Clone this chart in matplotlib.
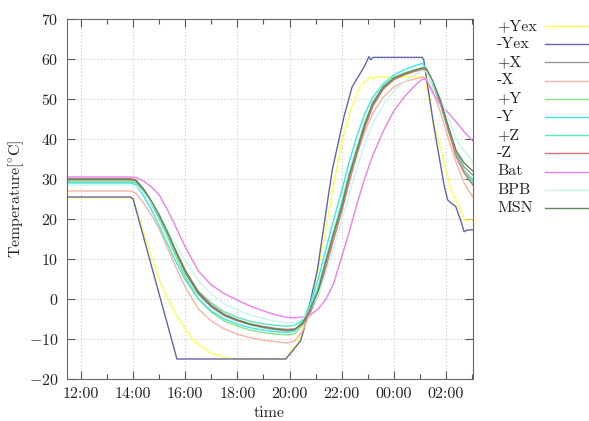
import matplotlib
matplotlib.use("Agg")
import matplotlib.pyplot as plt
from matplotlib.lines import Line2D
from matplotlib.ticker import FixedLocator, FuncFormatter

plt.rcParams['font.family'] = 'cmr10'
plt.rcParams['mathtext.fontset'] = 'cm'
plt.rcParams['axes.formatter.use_mathtext'] = True

# time in hours since midnight of the first day (24 = 00:00 next day)
hours = [11.45, 12.0, 13.0, 13.9, 14.1, 14.4, 14.7, 15.0, 15.3, 15.6,
         16.0, 16.5, 17.0, 17.5, 18.0, 18.5, 19.0, 19.5, 19.9, 20.2,
         20.5, 20.8, 21.1, 21.4, 21.7, 22.0, 22.3, 22.6, 22.9, 23.2,
         23.6, 24.0, 24.4, 24.8, 25.1, 25.25, 25.5, 25.8, 26.1, 26.4,
         26.7, 27.03]

plus_x = [30.0, 30.0, 30.0, 30.0, 29.7, 27.3, 24.2, 20.6, 16.5, 12.0,
          6.5, 1.2, -2.0, -4.2, -5.5, -6.5, -7.2, -7.7, -8.0, -7.8,
          -6.2, -2.8, 1.8, 9.0, 16.2, 23.0, 30.5, 37.5, 43.5, 48.5,
          52.8, 55.0, 56.2, 57.0, 57.6, 57.3, 54.0, 49.0, 42.5, 36.5,
          33.0, 31.0]
minus_x = [27.0, 27.0, 27.0, 27.0, 26.5, 24.0, 21.0, 17.5, 13.0, 8.5,
           3.0, -2.5, -5.5, -7.5, -8.8, -9.7, -10.3, -10.7, -11.0, -10.5,
           -8.0, -3.5, 2.0, 9.0, 16.0, 23.0, 30.0, 36.5, 42.0, 46.5,
           50.5, 53.0, 54.3, 55.0, 55.5, 55.0, 52.0, 46.5, 40.0, 34.0,
           29.0, 25.5]
plus_y = [29.5, 29.5, 29.5, 29.5, 29.3, 27.0, 23.8, 20.0, 15.8, 11.2,
          5.6, 0.0, -3.3, -5.5, -6.8, -7.8, -8.4, -8.8, -9.0, -8.7,
          -6.5, -2.5, 2.5, 9.8, 17.0, 23.8, 31.5, 38.0, 44.3, 49.3,
          53.2, 55.4, 56.5, 57.3, 57.8, 57.6, 54.0, 48.5, 42.0, 36.0,
          32.0, 30.0]
minus_y = [29.0, 29.0, 29.0, 29.0, 28.5, 25.8, 22.3, 18.3, 14.0, 9.8,
           4.8, 0.0, -3.0, -5.0, -6.3, -7.2, -7.8, -8.2, -8.4, -8.0,
           -5.5, -1.0, 5.0, 12.5, 20.0, 27.0, 34.5, 41.0, 46.5, 50.5,
           53.8, 56.0, 57.3, 58.3, 58.9, 57.5, 53.5, 48.5, 42.0, 36.0,
           32.0, 29.0]
plus_z = [29.2, 29.2, 29.2, 29.2, 29.0, 26.8, 23.8, 20.3, 16.5, 12.3,
          7.0, 2.0, -1.0, -3.2, -4.6, -5.6, -6.2, -6.6, -6.8, -6.6,
          -5.2, -1.8, 3.0, 10.0, 17.0, 24.0, 31.5, 38.0, 44.0, 48.8,
          52.6, 54.9, 56.1, 57.0, 57.5, 57.2, 54.0, 49.0, 42.5, 36.5,
          32.0, 29.5]
minus_z = [29.8, 29.8, 29.8, 29.8, 29.6, 27.4, 24.4, 21.0, 17.0, 12.6,
           7.2, 1.8, -1.5, -3.8, -5.2, -6.2, -6.9, -7.4, -7.6, -7.5,
           -6.3, -3.2, 1.0, 8.0, 15.0, 21.8, 29.5, 36.5, 43.0, 48.2,
           52.5, 54.8, 56.0, 56.9, 57.4, 57.2, 54.2, 49.0, 42.0, 35.5,
           31.5, 28.5]
bat = [30.5, 30.5, 30.5, 30.5, 30.4, 29.5, 28.0, 26.0, 22.5, 18.5,
       13.0, 7.0, 3.5, 1.3, -0.3, -1.8, -3.0, -4.0, -4.6, -4.7,
       -4.5, -4.0, -2.5, 0.0, 4.0, 10.5, 17.0, 24.0, 30.5, 36.0,
       42.0, 47.0, 50.5, 53.3, 55.0, 54.8, 51.5, 48.5, 46.5, 44.2,
       41.8, 39.5]
bpb = [28.5, 28.5, 28.5, 28.5, 28.3, 26.5, 24.0, 21.0, 17.5, 14.0,
       9.5, 4.5, 1.2, -1.2, -2.8, -4.0, -4.9, -5.6, -6.0, -6.0,
       -5.0, -2.5, 1.0, 6.5, 13.0, 19.5, 26.5, 33.0, 39.0, 44.0,
       48.5, 52.0, 54.3, 56.0, 57.0, 56.8, 54.0, 50.0, 45.0, 40.0,
       37.0, 34.5]
msn = [30.0, 30.0, 30.0, 30.0, 29.8, 27.5, 24.5, 21.0, 17.0, 12.5,
       7.0, 1.5, -1.8, -4.0, -5.3, -6.3, -7.0, -7.5, -7.8, -7.6,
       -6.0, -2.5, 2.0, 9.5, 16.5, 23.0, 31.0, 37.5, 44.0, 49.0,
       53.0, 55.2, 56.3, 57.2, 57.8, 57.6, 54.5, 49.5, 43.0, 37.0,
       34.0, 32.0]

# the two Y-exterior panels have sharper features, own time bases
yex_plus_hours = [11.45, 13.9, 14.0, 14.5, 15.04, 15.68, 16.3, 16.96, 17.6, 18.2,
                  19.9, 20.04, 20.3, 20.8, 21.3, 21.7, 22.0, 22.35, 22.7, 23.1,
                  23.2, 23.3, 25.2, 25.42, 25.54, 26.2, 26.45, 26.7, 27.03]
yex_plus = [25.3, 25.3, 25.0, 14.5, 4.0, -4.4, -10.25, -13.5, -14.8, -15.0,
            -15.0, -12.75, -11.5, -2.0, 14.0, 29.0, 39.0, 47.5, 53.0, 55.6,
            55.0, 55.5, 55.5, 47.25, 44.0, 27.25, 24.0, 19.75, 19.75]
yex_minus_hours = [11.45, 13.9, 14.0, 15.68, 19.85, 20.05, 20.42, 20.55, 21.07, 21.45,
                   21.64, 22.09, 22.4, 22.86, 23.05, 23.12, 23.2, 25.1, 25.15, 25.54,
                   25.94, 26.07, 26.2, 26.38, 26.6, 26.7, 26.8, 27.03]
yex_minus = [25.5, 25.5, 25.0, -15.0, -15.0, -13.5, -10.5, -7.75, 7.25, 24.0,
             32.25, 45.6, 53.0, 58.0, 60.6, 59.8, 60.4, 60.4, 59.75, 43.1,
             28.1, 24.75, 24.0, 23.1, 19.0, 16.8, 17.2, 17.3]

labels = ['+Yex', '-Yex', '+X', '-X', '+Y', '-Y', '+Z', '-Z', 'Bat', 'BPB', 'MSN']
colors = ['#ffff50', '#6464aa', '#999999', '#f7b4a4', '#88e088', '#40e4e4',
          '#5ae8bc', '#e87070', '#ec80ec', '#c8f4f4', '#5a8c5a']

series = [(yex_plus_hours, yex_plus), (yex_minus_hours, yex_minus),
          (hours, plus_x), (hours, minus_x), (hours, plus_y), (hours, minus_y),
          (hours, plus_z), (hours, minus_z), (hours, bat), (hours, bpb), (hours, msn)]

fig = plt.figure(figsize=(5.89, 4.21), dpi=100)
ax = fig.add_axes([0.1132, 0.0998, 0.6894, 0.8551])

for (t, v), lab, col in zip(series, labels, colors):
    ax.plot(t, v, color=col, lw=1.0, label=lab)

ax.set_xlim(11.45, 27.03)
ax.set_ylim(-20, 70)
ax.xaxis.set_major_locator(FixedLocator([12, 14, 16, 18, 20, 22, 24, 26]))
ax.xaxis.set_minor_locator(FixedLocator([13, 15, 17, 19, 21, 23, 25, 27]))
ax.xaxis.set_major_formatter(FuncFormatter(lambda h, pos: f"{int(round(h)) % 24:02d}:00"))
ax.set_yticks(range(-20, 71, 10))

ax.grid(True, which='major', color='#c8c8c8', lw=0.8, linestyle=(0, (1, 2)))
ax.tick_params(which='both', direction='in', top=True, right=True,
               colors='#555555', labelcolor='#222222', labelsize=11.5)
ax.tick_params(which='major', length=6, width=0.8, pad=6)
ax.tick_params(which='minor', length=3.5, width=0.8)
for s in ax.spines.values():
    s.set_color('#666666')
    s.set_linewidth(0.8)

ax.set_xlabel('time', fontsize=11.5, color='#222222', labelpad=4)
ax.set_ylabel(r'Temperature[$^{\circ}$C]', fontsize=11.5, color='#222222', labelpad=2)

# gnuplot-style key: labels left-aligned, samples to the right
W, H = 589, 421
for i, line in enumerate(ax.get_lines()):
    yk = 1 - (26 + i * 18.2) / H
    fig.text(497 / W, yk, line.get_label(), fontsize=11.5, color='#222222',
             ha='left', va='center')
    fig.add_artist(Line2D([545 / W, 1.0], [yk, yk], transform=fig.transFigure,
                          color=line.get_color(), lw=1.0))

fig.savefig('out.png', dpi=100)
